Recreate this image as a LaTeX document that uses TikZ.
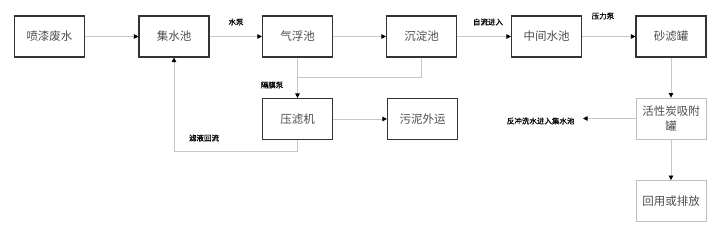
\documentclass[tikz,border=0pt]{standalone}
\usepackage{fontspec}
\newfontfamily\cjk{Noto Sans CJK SC}
\newfontfamily\cjkb[FakeBold=0.8]{Noto Sans CJK SC}
\usetikzlibrary{arrows.meta}
\begin{document}
\begin{tikzpicture}[x=1pt,y=-1pt,
  box/.style={draw=black!80, line width=1.1pt, minimum width=70pt, minimum height=41pt, inner sep=1pt, align=center, font=\cjk\fontsize{11.5}{15}\selectfont, text=black!70},
  lbox/.style={box, draw=black!25, line width=0.8pt},
  conn/.style={draw=black!22, line width=0.8pt, -{Triangle[length=4.5pt,width=4.5pt,color=black]}},
  plain/.style={draw=black!22, line width=0.8pt},
  lab/.style={font=\cjkb\fontsize{7.5}{9}\selectfont, text=black}]
\useasboundingbox (0,0) rectangle (720,237);
\node[box] (a) at (49.5,36.5) {喷漆废水};
\node[box] (b) at (174,36.5) {集水池};
\node[box] (c) at (297.5,36.5) {气浮池};
\node[box] (d) at (421.5,36.5) {沉淀池};
\node[box] (e) at (546.5,36.5) {中间水池};
\node[box] (f) at (671,36.5) {砂滤罐};
\node[box] (g) at (297.5,119) {压滤机};
\node[box] (h) at (422.5,119) {污泥外运};
\node[lbox] (i) at (671,118.5) {活性炭吸附\\罐};
\node[lbox] (j) at (671,201) {回用或排放};
\coordinate (k) at (583,118.5);
\coordinate (m) at (297.5,77);
\draw[conn] (a) -- (b);
\draw[conn] (b) -- (c);
\draw[conn] (c) -- (d);
\draw[conn] (d) -- (e);
\draw[conn] (e) -- (f);
\draw[plain] (d.south) |- (m);
\draw[conn] (c) -- (g);
\draw[conn] (g) -- (h);
\draw[conn] (g.south) -- ++(0,11) -| (b.south);
\draw[conn] (f) -- (i);
\draw[conn] (i) -- (j);
\draw[conn] (i.west) -- (k);
\node[lab] at (236,22) {水泵};
\node[lab] at (488,22) {自流进入};
\node[lab] at (603,16) {压力泵};
\node[lab] at (272,85) {隔膜泵};
\node[lab] at (204,138) {滤液回流};
\node[lab, anchor=east] at (578,121) {反冲洗水进入集水池};
\end{tikzpicture}
\end{document}
